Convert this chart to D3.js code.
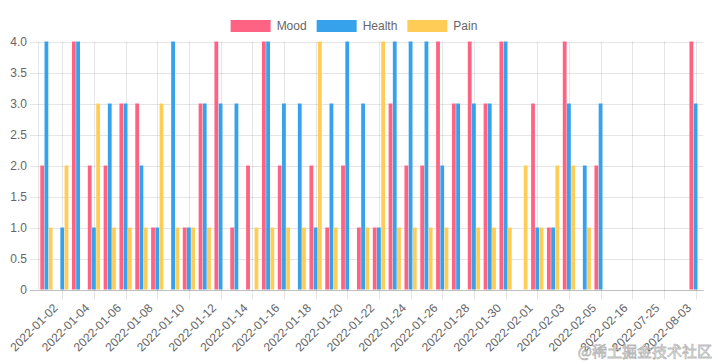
<!DOCTYPE html>
<html><head><meta charset="utf-8">
<script src="https://cdn.jsdelivr.net/npm/d3@7"></script>
<style>body{margin:0;background:#fff} svg{display:block}</style>
</head><body><svg id="c" width="718" height="364"></svg>
<script>
// ---- data ----
const dates = [
  "2022-01-01","2022-01-02","2022-01-03","2022-01-04","2022-01-05","2022-01-06","2022-01-07",
  "2022-01-08","2022-01-09","2022-01-10","2022-01-11","2022-01-12","2022-01-13","2022-01-14",
  "2022-01-15","2022-01-16","2022-01-17","2022-01-18","2022-01-19","2022-01-20","2022-01-21",
  "2022-01-22","2022-01-23","2022-01-24","2022-01-25","2022-01-26","2022-01-27","2022-01-28",
  "2022-01-29","2022-01-30","2022-01-31","2022-02-01","2022-02-02","2022-02-03","2022-02-04",
  "2022-02-05","2022-02-06","2022-02-16","2022-02-17","2022-07-25","2022-07-26","2022-08-03"
];
const mood   = [2,0,4,2,2,3,3,1,0,1,3,4,1,2,4,2,0,2,1,2,1,1,3,2,2,4,3,4,3,4,0,3,1,4,0,2,0,0,0,0,0,4];
const health = [4,1,4,1,3,3,2,1,4,1,3,3,3,0,4,3,3,1,3,4,3,1,4,4,4,2,3,3,3,4,0,1,1,3,2,3,0,0,0,0,0,3];
const pain   = [1,2,0,3,1,1,1,3,1,1,1,0,0,1,1,1,1,4,1,0,1,4,1,1,1,1,0,1,1,1,2,1,2,2,1,0,0,0,0,0,0,0];
const seriesNames  = ["Mood","Health","Pain"];
const seriesColors = ["#ff6384","#36a2eb","#ffcd56"];
const yTicks = [0,0.5,1,1.5,2,2.5,3,3.5,4];
const watermark = "@稀土掘金技术社区";

// ---- layout ----
const svg = d3.select("#c");
const W = 718, H = 364;
const pLeft = 38.5, pRight = 703.5, pTop = 41.5, pBottom = 289.5;
const font = "'Helvetica Neue', Helvetica, Arial, 'Liberation Sans', sans-serif";
const series = [mood, health, pain];

const x0 = d3.scaleBand().domain(dates).range([pLeft, pRight]).padding(0);
const bw = x0.bandwidth();
const x1 = d3.scaleBand().domain(seriesNames).range([bw*0.1, bw*0.9]).padding(0);
const y = d3.scaleLinear().domain([0,4]).range([pBottom, pTop]);

// horizontal grid
const gGrid = svg.append("g");
gGrid.selectAll("line.h").data(yTicks).join("line")
  .attr("x1", 30).attr("x2", pRight)
  .attr("y1", d => Math.round(y(d)) + 0.5).attr("y2", d => Math.round(y(d)) + 0.5)
  .attr("stroke", d => d === 0 ? "rgba(0,0,0,0.25)" : "rgba(0,0,0,0.1)")
  .attr("stroke-width", 1);

// vertical grid (shown ticks only: every other category)
const shown = dates.filter((d,i) => i % 2 === 1);
gGrid.selectAll("line.v").data(shown).join("line")
  .attr("x1", d => Math.round(x0(d) + bw/2) + 0.5).attr("x2", d => Math.round(x0(d) + bw/2) + 0.5)
  .attr("y1", pTop).attr("y2", pBottom + 10)
  .attr("stroke", "rgba(0,0,0,0.1)");
// y axis line
gGrid.append("line").attr("x1", pLeft).attr("x2", pLeft).attr("y1", pTop).attr("y2", pBottom)
  .attr("stroke", "rgba(0,0,0,0.1)");

// bars
const bars = svg.append("g");
seriesNames.forEach((s, si) => {
  bars.append("g").selectAll("rect").data(dates.map((d,i) => ({d, v: series[si][i]})))
    .join("rect")
    .attr("x", o => x0(o.d) + x1(s) + x1.bandwidth()*0.05)
    .attr("width", x1.bandwidth()*0.9)
    .attr("y", o => y(o.v))
    .attr("height", o => y(0) - y(o.v))
    .attr("fill", seriesColors[si]);
});

// y labels
svg.append("g").selectAll("text").data(yTicks).join("text")
  .attr("x", 27).attr("y", d => y(d))
  .attr("text-anchor", "end").attr("dominant-baseline", "central")
  .attr("font-family", font).attr("font-size", 12).attr("fill", "#666")
  .text(d => d === 0 ? "0" : d.toFixed(1));

// x labels
svg.append("g").selectAll("text").data(shown).join("text")
  .attr("transform", d => `translate(${x0(d) + bw/2 - 6.5},${pBottom + 16.5}) rotate(-45)`)
  .attr("text-anchor", "end").attr("dominant-baseline", "central")
  .attr("font-family", font).attr("font-size", 12).attr("fill", "#666")
  .text(d => d);

// legend
const lg = svg.append("g");
const items = seriesNames.map((n, i) => {
  const t = lg.append("text").attr("font-family", font).attr("font-size", 12)
    .attr("fill", "#666").attr("dominant-baseline", "central").attr("y", 26).text(n);
  return {n, i, t, w: t.node().getComputedTextLength()};
});
const total = d3.sum(items, it => 40 + 6 + it.w + 10);
let cx = (W - total) / 2;
items.forEach(it => {
  lg.append("rect").attr("x", cx).attr("y", 20).attr("width", 40).attr("height", 12)
    .attr("fill", seriesColors[it.i]);
  it.t.attr("x", cx + 46);
  cx += 40 + 6 + it.w + 10;
});

// watermark
svg.append("text").attr("x", 712).attr("y", 357).attr("text-anchor", "end")
  .attr("font-family", "'Noto Sans CJK SC', sans-serif").attr("font-size", 15)
  .attr("fill", "rgba(255,255,255,0.85)").attr("stroke", "rgba(120,120,120,0.55)")
  .attr("stroke-width", 0.8).text(watermark);
</script></body></html>
